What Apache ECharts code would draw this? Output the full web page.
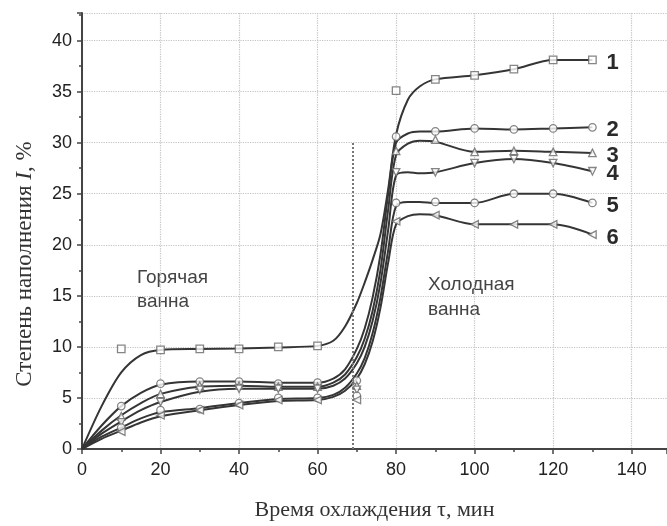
<!DOCTYPE html>
<html>
<head>
<meta charset="utf-8">
<script src="https://cdn.jsdelivr.net/npm/echarts@6/dist/echarts.min.js"></script>
<style>html,body{margin:0;padding:0;background:#fff;}#c{width:667px;height:526px;}</style>
</head>
<body>
<div id="c"></div>
<script>
// ---- data ----
const curveNames = ['1', '2', '3', '4', '5', '6'];
// fitted (smooth) curves: x positions and values per curve
const fitX = [0, 5, 10, 15, 20, 30, 40, 50, 60, 64, 67, 70, 72, 74, 76, 78, 80, 83, 86, 90, 100, 110, 120, 130];
const fit1 = [0, 4.2, 7.5, 9.2, 9.7, 9.8, 9.85, 9.95, 10.1, 10.6, 12.0, 14.3, 16.3, 18.5, 21.0, 25.5, 30.8, 34.2, 35.5, 36.2, 36.6, 37.2, 38.1, 38.1];
const fit2 = [0, 2.3, 4.2, 5.5, 6.3, 6.6, 6.6, 6.5, 6.5, 6.9, 7.8, 9.8, 11.8, 14.8, 19.0, 25.0, 30.0, 30.9, 31.1, 31.1, 31.4, 31.3, 31.4, 31.5];
const fit3 = [0, 1.8, 3.3, 4.5, 5.4, 6.1, 6.2, 6.1, 6.1, 6.5, 7.3, 9.0, 10.8, 13.5, 17.5, 23.5, 28.8, 29.9, 30.2, 30.1, 29.1, 29.2, 29.1, 29.0];
const fit4 = [0, 1.5, 2.7, 3.8, 4.6, 5.6, 5.9, 5.9, 5.9, 6.2, 6.9, 8.4, 10.0, 12.5, 16.2, 21.5, 26.8, 27.1, 27.0, 27.1, 28.0, 28.4, 28.0, 27.2];
const fit5 = [0, 1.2, 2.1, 3.0, 3.6, 4.0, 4.5, 4.9, 5.0, 5.3, 6.0, 7.4, 8.9, 11.3, 14.8, 19.5, 23.8, 24.2, 24.2, 24.1, 24.1, 25.0, 25.0, 24.1];
const fit6 = [0, 1.0, 1.8, 2.6, 3.2, 3.8, 4.3, 4.7, 4.8, 5.1, 5.7, 6.9, 8.3, 10.5, 13.8, 18.3, 22.0, 22.8, 23.0, 22.9, 22.0, 22.0, 22.0, 21.0];
// measured points (markers)
const ptsX1 = [10, 20, 30, 40, 50, 60, 80, 90, 100, 110, 120, 130];
const pts1  = [9.8, 9.7, 9.8, 9.8, 10.0, 10.1, 35.1, 36.2, 36.6, 37.2, 38.1, 38.1];
const ptsX  = [10, 20, 30, 40, 50, 60, 70, 80, 90, 100, 110, 120, 130];
const pts2  = [4.2, 6.4, 6.6, 6.6, 6.4, 6.5, 6.7, 30.6, 31.1, 31.4, 31.3, 31.4, 31.5];
const pts3  = [3.2, 5.4, 6.2, 6.2, 6.1, 6.1, 6.2, 29.2, 30.3, 29.1, 29.2, 29.1, 29.0];
const pts4  = [2.6, 4.6, 5.8, 5.9, 5.9, 5.9, 5.8, 27.1, 27.1, 28.0, 28.4, 28.0, 27.2];
const pts5  = [2.1, 3.8, 3.9, 4.5, 5.0, 5.0, 5.2, 24.1, 24.2, 24.1, 25.0, 25.0, 24.1];
const pts6  = [1.7, 3.3, 3.8, 4.3, 4.8, 4.8, 4.8, 22.3, 22.9, 22.0, 22.0, 22.0, 21.0];
const switchLine = [[69, 0], [69, 30]];   // dotted line: hot -> cold bath
const xTicks = {min: 0, max: 149, step: 20};
const yTicks = {min: 0, max: 42.7, step: 5};

// ---- build ----
const fits = [fit1, fit2, fit3, fit4, fit5, fit6];
const ptSets = [[ptsX1, pts1], [ptsX, pts2], [ptsX, pts3], [ptsX, pts4], [ptsX, pts5], [ptsX, pts6]];
const symbols = ['rect', 'circle', 'triangle', 'triangle', 'circle', 'triangle'];
const rotations = [0, 0, 0, 180, 0, 90];
const zip = (xs, ys) => xs.map((x, i) => [x, ys[i]]);

const series = [];
fits.forEach((f, i) => {
  series.push({
    type: 'line', name: curveNames[i], data: zip(fitX, f),
    smooth: 0.3, showSymbol: false, silent: true,
    lineStyle: {color: '#353535', width: 2},
    endLabel: {show: true, formatter: '{a}', distance: 14, offset: [0, 3], color: '#2a2a2a',
      fontSize: 22, fontWeight: 'bold', fontFamily: 'Liberation Sans'},
    markLine: i === 0 ? {
      silent: true, symbol: 'none', label: {show: false},
      lineStyle: {type: 'dotted', color: '#777', width: 2},
      data: [[{coord: switchLine[0]}, {coord: switchLine[1]}]]
    } : undefined,
    z: 3
  });
});
ptSets.forEach((p, i) => {
  series.push({
    type: 'scatter', data: zip(p[0], p[1]), symbol: symbols[i], symbolRotate: rotations[i],
    symbolSize: 7.5,
    itemStyle: {color: '#fff', borderColor: '#666', borderWidth: 1.3}, z: 4
  });
});

const axisFont = {fontFamily: 'Liberation Sans', fontSize: 18, color: '#222'};
const chart = echarts.init(document.getElementById('c'), null, {renderer: 'canvas'});
chart.setOption({
  animation: false,
  backgroundColor: '#fff',
  grid: {left: 82, right: 0, top: 13, bottom: 73, containLabel: false},
  xAxis: {
    type: 'value', min: xTicks.min, max: xTicks.max, interval: xTicks.step,
    name: 'Время охлаждения τ, мин', nameLocation: 'middle', nameGap: 50,
    nameTextStyle: {fontFamily: 'Liberation Serif', fontSize: 22, color: '#333'},
    axisLine: {lineStyle: {color: '#444', width: 2}},
    axisTick: {show: true, length: 5, lineStyle: {color: '#444', width: 1.5}},
    minorTick: {show: true, splitNumber: 2, length: 3, lineStyle: {color: '#444', width: 1.5}},
    axisLabel: Object.assign({margin: 12, showMaxLabel: false}, axisFont),
    splitLine: {show: true, lineStyle: {type: 'dotted', color: '#c4c4c4', width: 1.2}}
  },
  yAxis: {
    type: 'value', min: yTicks.min, max: yTicks.max, interval: yTicks.step,
    axisLine: {show: true, lineStyle: {color: '#444', width: 2}},
    axisTick: {show: true, length: 5, lineStyle: {color: '#444', width: 1.5}},
    minorTick: {show: true, splitNumber: 2, length: 3, lineStyle: {color: '#444', width: 1.5}},
    axisLabel: Object.assign({margin: 10, showMaxLabel: false}, axisFont),
    splitLine: {show: true, lineStyle: {type: 'dotted', color: '#c4c4c4', width: 1.2}}
  },
  graphic: [
    {type: 'text', x: 25, y: 264, rotation: Math.PI / 2,
      style: {text: '{a|Степень наполнения }{i|I}{a|, %}', align: 'center', verticalAlign: 'middle',
        rich: {a: {fontFamily: 'Liberation Serif', fontSize: 23, fill: '#333'},
               i: {fontFamily: 'Liberation Serif', fontSize: 23, fontStyle: 'italic', fill: '#333'}}}},
    {type: 'text', left: 137, top: 266,
      style: {text: 'Горячая\nванна', fontFamily: 'Liberation Sans', fontSize: 19, lineHeight: 24, fill: '#444'}},
    {type: 'text', left: 428, top: 272,
      style: {text: 'Холодная\nванна', fontFamily: 'Liberation Sans', fontSize: 19, lineHeight: 25, fill: '#444'}}
  ],
  series: series
});
</script>
</body>
</html>
